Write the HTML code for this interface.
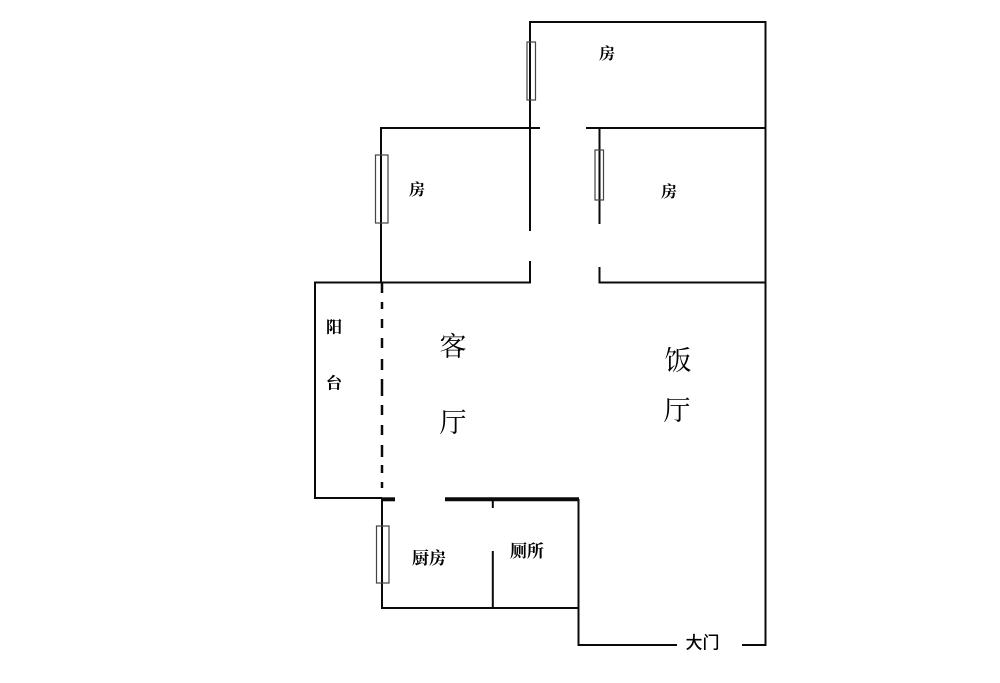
<!DOCTYPE html>
<html>
<head>
<meta charset="utf-8">
<style>
html,body{margin:0;padding:0;background:#fff;width:1000px;height:683px;overflow:hidden}
svg{display:block}
text{font-family:"Liberation Serif","Noto Serif CJK SC",serif;text-anchor:middle;fill:#000;dominant-baseline:central}
.s{font-size:16px;font-weight:700}
.d{font-size:17px;font-weight:700}
.l{font-size:27px;font-weight:400}
</style>
</head>
<body>
<svg width="1000" height="683" viewBox="0 0 1000 683" xmlns="http://www.w3.org/2000/svg">
<g stroke="#0a0a0a" stroke-width="2" fill="none">
<path d="M530 231V22H765.500V645H742"/>
<path d="M677 645H578.500V499"/>
<path d="M381 283V128H540"/>
<path d="M586 128H765"/>
<path d="M599.500 128V224"/>
<path d="M530 261V282.500H315V498H382"/>
<path d="M599.500 267V282.500H765"/>
<path d="M382 499V608H578"/>
<path d="M492.800 551V608"/>
<path d="M492.800 500V508"/>
<path stroke-width="2.500" d="M382 283V293M382 302V309M382 319V328M382 338V348M382 359V370M382 379V396M382 405V415M382 425V435M382 445V457M382 465V473M382 482V488"/>
</g>
<g stroke="#0a0a0a" stroke-width="4" fill="none">
<path d="M382 499.300H395"/>
<path d="M445 499.300H579"/>
</g>
<g stroke="#444" stroke-width="1.200" fill="none">
<rect x="527" y="42" width="8.500" height="58"/>
<rect x="375.500" y="155" width="12.500" height="68"/>
<rect x="595" y="150" width="8.500" height="50"/>
<rect x="376.500" y="526" width="12.500" height="57"/>
</g>
<text class="s" x="607" y="54.500">房</text>
<text class="s" x="417" y="190.500">房</text>
<text class="s" x="669" y="192.500">房</text>
<text class="s" x="334" y="328">阳</text>
<text class="s" x="334" y="384">台</text>
<text class="l" x="453" y="347">客</text>
<text class="l" x="453" y="423">厅</text>
<text class="l" x="678" y="361">饭</text>
<text class="l" x="677" y="411">厅</text>
<text class="d" x="429" y="558.500">厨房</text>
<text class="d" x="527" y="551.500">厕所</text>
<text x="702.500" y="643" style="font-family:'Liberation Sans','Noto Sans CJK SC',sans-serif;font-weight:500;font-size:17px">大门</text>
</svg>
</body>
</html>
